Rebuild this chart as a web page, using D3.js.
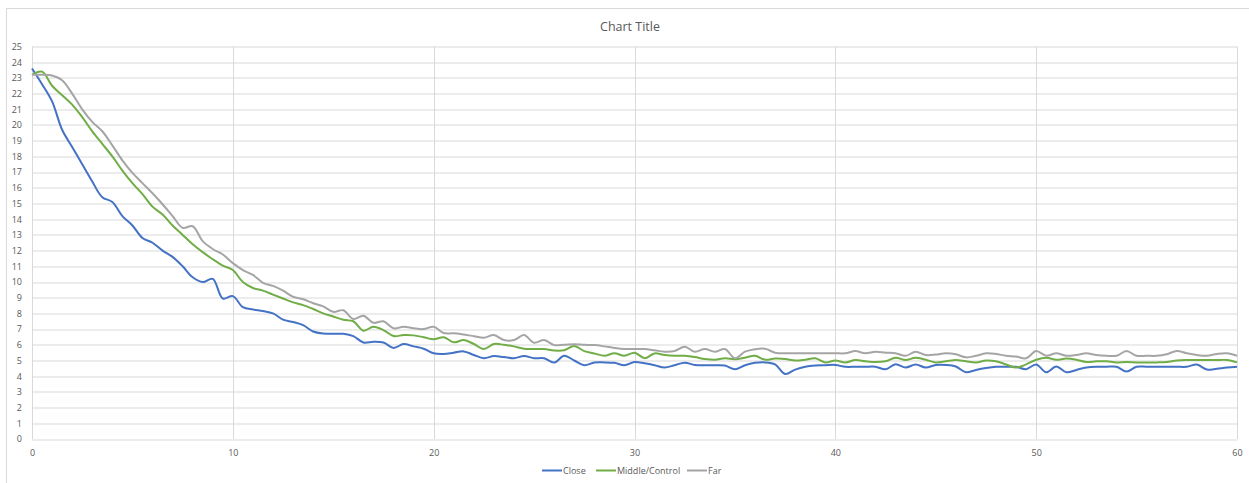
<!DOCTYPE html>
<html>
<head>
<meta charset="utf-8">
<script src="https://cdn.jsdelivr.net/npm/d3@7"></script>
<style>
  body { margin: 0; background: #fff; }
  text { font-family: "Open Sans", "Liberation Sans", sans-serif; fill: #595959; }
</style>
</head>
<body>
<script>
// Series names and colours
var seriesNames = ['Close', 'Middle/Control', 'Far'];
var seriesColors = ['#4472c4', '#70ad47', '#a5a5a5'];

// Sample times, one every half unit from 0 to 60
var times = d3.range(0, 60.01, 0.5);

// Readings for each series
var close = [
  23.6, 22.6, 21.5, 19.7, 18.6, 17.5, 16.4, 15.4, 15.1, 14.2,
  13.6, 12.8, 12.5, 12.0, 11.6, 11.0, 10.3, 10.0, 10.2, 8.95,
  9.1, 8.4, 8.25, 8.15, 8.0, 7.6, 7.45, 7.25, 6.85, 6.72,
  6.7, 6.7, 6.55, 6.15, 6.2, 6.15, 5.8, 6.05, 5.9, 5.75,
  5.46, 5.42, 5.5, 5.58, 5.35, 5.15, 5.28, 5.22, 5.15, 5.28,
  5.15, 5.14, 4.87, 5.3, 5.0, 4.7, 4.87, 4.88, 4.85, 4.7,
  4.9, 4.82, 4.7, 4.55, 4.7, 4.86, 4.72, 4.7, 4.7, 4.68,
  4.44, 4.7, 4.85, 4.88, 4.75, 4.14, 4.42, 4.6, 4.68, 4.7,
  4.72, 4.6, 4.6, 4.6, 4.6, 4.44, 4.76, 4.55, 4.75, 4.55,
  4.72, 4.72, 4.62, 4.25, 4.4, 4.52, 4.6, 4.6, 4.6, 4.45,
  4.75, 4.25, 4.62, 4.25, 4.4, 4.55, 4.6, 4.6, 4.6, 4.3,
  4.6, 4.6, 4.6, 4.6, 4.6, 4.6, 4.74, 4.42, 4.48, 4.55,
  4.6
];
var middle = [
  23.2, 23.4, 22.5, 21.9, 21.3, 20.5, 19.6, 18.8, 18.0, 17.1,
  16.3, 15.6, 14.8, 14.3, 13.6, 13.0, 12.4, 11.9, 11.45, 11.05,
  10.76, 10.0, 9.62, 9.45, 9.2, 8.95, 8.7, 8.53, 8.28, 8.0,
  7.8, 7.6, 7.5, 6.9, 7.15, 6.94, 6.56, 6.62, 6.6, 6.48,
  6.35, 6.48, 6.16, 6.3, 6.05, 5.73, 6.05, 6.0, 5.9, 5.75,
  5.73, 5.73, 5.63, 5.65, 5.92, 5.6, 5.45, 5.3, 5.46, 5.3,
  5.5, 5.15, 5.45, 5.35, 5.3, 5.3, 5.22, 5.1, 5.05, 5.14,
  5.08, 5.18, 5.3, 5.05, 5.12, 5.1, 5.0, 5.05, 5.14, 4.88,
  5.0, 4.88, 5.03, 4.95, 4.9, 4.95, 5.18, 5.03, 5.18, 5.05,
  4.88, 4.95, 5.03, 4.95, 4.88, 5.0, 4.95, 4.75, 4.55, 4.75,
  5.05, 5.18, 5.05, 5.12, 5.05, 4.9, 4.95, 4.95, 4.88, 4.9,
  4.88, 4.88, 4.88, 4.9, 5.0, 5.03, 5.03, 5.03, 5.03, 5.03,
  4.88
];
var far = [
  23.2, 23.2, 23.15, 22.85, 22.0, 21.0, 20.2, 19.6, 18.7, 17.75,
  16.95, 16.3, 15.65, 14.95, 14.2, 13.45, 13.55, 12.6, 12.1, 11.75,
  11.2, 10.76, 10.45, 9.95, 9.75, 9.45, 9.06, 8.9, 8.65, 8.45,
  8.1, 8.2, 7.64, 7.85, 7.4, 7.5, 7.05, 7.15, 7.05, 7.0,
  7.15, 6.75, 6.73, 6.65, 6.55, 6.45, 6.62, 6.3, 6.3, 6.62,
  6.13, 6.3, 5.98, 6.0, 6.03, 6.0, 5.98, 5.9, 5.8, 5.73,
  5.73, 5.73, 5.65, 5.56, 5.6, 5.88, 5.56, 5.73, 5.56, 5.73,
  5.14, 5.56, 5.72, 5.75, 5.5, 5.46, 5.46, 5.46, 5.46, 5.46,
  5.46, 5.46, 5.6, 5.46, 5.56, 5.5, 5.46, 5.3, 5.56, 5.35,
  5.38, 5.46, 5.4, 5.2, 5.3, 5.46, 5.42, 5.3, 5.25, 5.14,
  5.6, 5.3, 5.46, 5.3, 5.35, 5.46, 5.35, 5.3, 5.3, 5.6,
  5.3, 5.3, 5.3, 5.4, 5.6, 5.46, 5.35, 5.3, 5.42, 5.46,
  5.3
];

// Axis ticks
var xTicks = [0, 10, 20, 30, 40, 50, 60];
var yTicks = d3.range(0, 26, 1);

var seriesValues = [close, middle, far];

// Graph dimensions
var svgWidth = 1249, svgHeight = 483;
var margin = {top: 46.5, right: 12, bottom: 44, left: 32};
var width = svgWidth - margin.left - margin.right,
    height = svgHeight - margin.top - margin.bottom;

// Set ranges
var x = d3.scaleLinear().domain([0, 60]).range([0, width]);
var y = d3.scaleLinear().domain([0, 25]).range([height, 0]);

var svg = d3.select('body')
    .append('svg')
    .attr('width', svgWidth)
    .attr('height', svgHeight);

// Chart frame
svg.append('rect')
    .attr('x', 6.5).attr('y', 8.5)
    .attr('width', 1260).attr('height', 490)
    .attr('fill', 'none')
    .attr('stroke', '#d9d9d9');

// Title
svg.append('text')
    .attr('x', 630).attr('y', 31)
    .attr('text-anchor', 'middle')
    .style('font-size', '12.5px')
    .text('Chart Title');

var chart = svg.append('g')
    .attr('transform', 'translate(' + margin.left + ',' + margin.top + ')');

// Horizontal gridlines
chart.append('g')
    .selectAll('line')
    .data(yTicks)
    .join('line')
    .attr('x1', 0).attr('x2', width)
    .attr('y1', function(d) { return Math.round(y(d)) + 0.5; })
    .attr('y2', function(d) { return Math.round(y(d)) + 0.5; })
    .attr('stroke', '#d9d9d9');

// Vertical gridlines
chart.append('g')
    .selectAll('line')
    .data(xTicks)
    .join('line')
    .attr('x1', function(d) { return Math.round(x(d)) + 0.5; })
    .attr('x2', function(d) { return Math.round(x(d)) + 0.5; })
    .attr('y1', 0).attr('y2', height)
    .attr('stroke', '#d9d9d9');

// Y axis labels
var yAxis = d3.axisLeft(y).tickValues(yTicks).tickSize(0).tickPadding(10);
chart.append('g')
    .call(yAxis)
    .call(function(g) { g.select('.domain').remove(); })
    .selectAll('text')
    .style('font-size', '9px')
    .style('font-family', '"Open Sans", sans-serif')
    .attr('fill', '#595959');

// X axis labels
var xAxis = d3.axisBottom(x).tickValues(xTicks).tickSize(0).tickPadding(11);
chart.append('g')
    .attr('transform', 'translate(0,' + height + ')')
    .call(xAxis)
    .call(function(g) { g.select('.domain').remove(); })
    .selectAll('text')
    .style('font-size', '9px')
    .style('font-family', '"Open Sans", sans-serif')
    .attr('fill', '#595959');

// Lines
var line = d3.line()
    .x(function(d) { return x(d[0]); })
    .y(function(d) { return y(d[1]); })
    .curve(d3.curveCatmullRom.alpha(0.5));

seriesValues.forEach(function(vals, i) {
    var pts = times.map(function(t, j) { return [t, vals[j]]; });
    chart.append('path')
        .attr('fill', 'none')
        .attr('stroke', seriesColors[i])
        .attr('stroke-width', 2)
        .attr('stroke-linejoin', 'round')
        .attr('d', line(pts));
});

// Legend
var legendX = [542, 596, 687];
var legend = svg.append('g').attr('transform', 'translate(0,470.5)');
seriesNames.forEach(function(name, i) {
    legend.append('line')
        .attr('x1', legendX[i]).attr('x2', legendX[i] + 20)
        .attr('y1', 0).attr('y2', 0)
        .attr('stroke', seriesColors[i])
        .attr('stroke-width', 2);
    legend.append('text')
        .attr('x', legendX[i] + 21)
        .attr('y', 3.5)
        .style('font-size', '9px')
        .text(name);
});
</script>
</body>
</html>
